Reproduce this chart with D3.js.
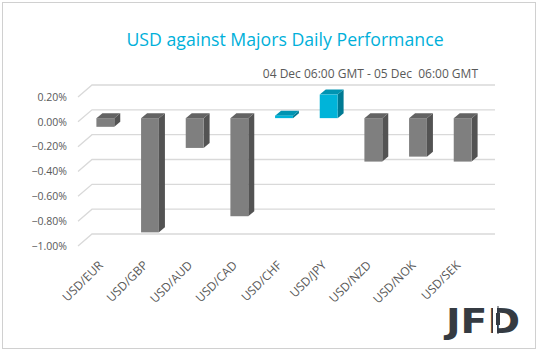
<!DOCTYPE html>
<html lang="en">
  <head>
    <meta charset="utf-8" />
    <title>USD against Majors Daily Performance</title>
    <script src="https://d3js.org/d3.v7.min.js"></script>
    <style>
      body {
        margin: 0;
        background: white;
      }
      .title {
        font-family: "Open Sans", sans-serif;
        font-size: 17.7px;
        fill: #00b0da;
      }
      .subtitle,
      .tick-label,
      .cat-label {
        font-family: "Open Sans", sans-serif;
        fill: #595959;
      }
      .subtitle {
        font-size: 12px;
      }
      .tick-label {
        font-size: 10.5px;
      }
      .cat-label {
        font-size: 12px;
      }
      .grid {
        stroke: #d9d9d9;
        stroke-width: 1.3;
      }
    </style>
  </head>
  <body>
    <svg width="538" height="351"></svg>
    <script>
      const pairs = [
        "USD/EUR",
        "USD/GBP",
        "USD/AUD",
        "USD/CAD",
        "USD/CHF",
        "USD/JPY",
        "USD/NZD",
        "USD/NOK",
        "USD/SEK",
      ];
      const changes = [-0.07, -0.92, -0.24, -0.79, 0.02, 0.19, -0.35, -0.31, -0.35];
      const yTicks = [0.2, 0, -0.2, -0.4, -0.6, -0.8, -1.0];

      const svg = d3.select("svg");

      // chart frame
      svg
        .append("rect")
        .attr("x", 2.5)
        .attr("y", 2.5)
        .attr("width", 533)
        .attr("height", 346)
        .attr("fill", "white")
        .attr("stroke", "#d0d0d0");

      // back wall scale, bars sit a bit in front of it
      const yBack = d3.scaleLinear().domain([-1, 0.2]).range([234, 85]);
      const frontShift = 8.3;
      const depth = { dx: 6, dy: -5 };
      const side = { dx: -14, dy: 12 };
      const wallLeft = 92,
        wallRight = 495;

      const x = d3
        .scaleBand()
        .domain(pairs)
        .range([83, 485])
        .paddingInner(0.6)
        .paddingOuter(0.3);

      // gridlines on back and side walls
      const grid = svg.append("g");
      yTicks.forEach((t) => {
        const y = yBack(t);
        grid
          .append("path")
          .attr("class", "grid")
          .attr("fill", "none")
          .attr(
            "d",
            `M${wallLeft + side.dx},${y + side.dy}L${wallLeft},${y}L${wallRight},${y}`
          );
        grid
          .append("text")
          .attr("class", "tick-label")
          .attr("x", 67)
          .attr("y", y + side.dy)
          .attr("dy", "0.35em")
          .attr("text-anchor", "end")
          .text(d3.format(".2%")(t / 100));
      });

      // 3D bars
      const colors = {
        neg: { front: "#7f7f7f", top: "#636363", side: "#535353" },
        pos: { front: "#00b4d9", top: "#0094b2", side: "#007a93" },
      };
      const bars = svg.append("g");
      pairs.forEach((p, i) => {
        const v = changes[i];
        const c = v >= 0 ? colors.pos : colors.neg;
        const x0 = x(p),
          w = x.bandwidth();
        const yTop = yBack(Math.max(v, 0)) + frontShift;
        const yBot = yBack(Math.min(v, 0)) + frontShift;
        const g = bars.append("g");
        // side face
        g.append("path")
          .attr("fill", c.side)
          .attr(
            "d",
            `M${x0 + w},${yTop}L${x0 + w + depth.dx},${yTop + depth.dy}L${x0 + w + depth.dx},${yBot + depth.dy}L${x0 + w},${yBot}Z`
          );
        // top face
        g.append("path")
          .attr("fill", c.top)
          .attr(
            "d",
            `M${x0},${yTop}L${x0 + depth.dx},${yTop + depth.dy}L${x0 + w + depth.dx},${yTop + depth.dy}L${x0 + w},${yTop}Z`
          );
        // front face
        g.append("rect")
          .attr("fill", c.front)
          .attr("x", x0)
          .attr("y", yTop)
          .attr("width", w)
          .attr("height", Math.max(yBot - yTop, 1));
      });

      // category labels
      svg
        .append("g")
        .selectAll("text")
        .data(pairs)
        .join("text")
        .attr("class", "cat-label")
        .attr("text-anchor", "end")
        .attr(
          "transform",
          (d) => `translate(${x(d) + x.bandwidth() / 2 - 1.5},${266}) rotate(-45)`
        )
        .text((d) => d);

      // titles
      svg
        .append("text")
        .attr("class", "title")
        .attr("x", 285)
        .attr("y", 46)
        .attr("text-anchor", "middle")
        .text("USD against Majors Daily Performance");

      svg
        .append("text")
        .attr("class", "subtitle")
        .attr("x", 478)
        .attr("y", 78)
        .attr("text-anchor", "end")
        .attr("xml:space", "preserve")
        .style("white-space", "pre")
        .text("04 Dec 06:00 GMT - 05 Dec  06:00 GMT");

      // JFD logo
      const logo = svg.append("g").attr("fill", "#353b42");
      logo
        .append("text")
        .attr("x", 446)
        .attr("y", 333)
        .style("font-family", "'DejaVu Sans', sans-serif")
        .style("font-weight", "bold")
        .style("font-size", "34px")
        .attr("textLength", 74)
        .attr("lengthAdjust", "spacingAndGlyphs")
        .text("JFD");
      // candlestick cut in the D
      logo
        .append("rect")
        .attr("x", 493)
        .attr("y", 305)
        .attr("width", 4)
        .attr("height", 30)
        .attr("fill", "white");
      logo
        .append("rect")
        .attr("x", 497.5)
        .attr("y", 306)
        .attr("width", 1)
        .attr("height", 28);
      logo
        .append("rect")
        .attr("x", 496)
        .attr("y", 313)
        .attr("width", 4)
        .attr("height", 12);
    </script>
  </body>
</html>
